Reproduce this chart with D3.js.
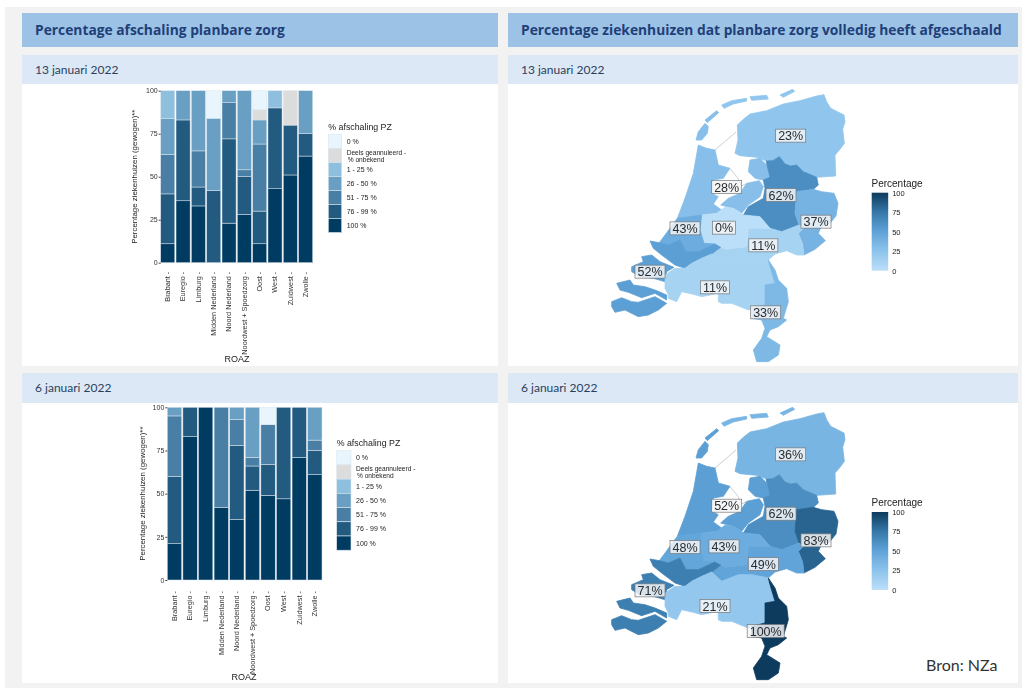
<!DOCTYPE html>
<html>
<head>
<meta charset="utf-8">
<script src="https://cdn.jsdelivr.net/npm/d3@7"></script>
<style>
  html, body { margin: 0; padding: 0; background: #fff; }
  svg { display: block; }
  .head { font-family: "Open Sans", sans-serif; font-weight: 700; font-size: 13.8px; fill: #1f3f78; }
  .sub { font-family: Lato, sans-serif; font-size: 12px; fill: #2b3f5c; }
  .plot { font-family: "Liberation Sans", Arial, sans-serif; filter: blur(0.45px); }
</style>
</head>
<body>
<div id="chart"></div>
<script>
// ROAZ regions, same order in both dates
const roaz = ['Brabant', 'Euregio', 'Limburg', 'Midden Nederland', 'Noord Nederland',
  'Noordwest + Spoedzorg', 'Oost', 'West', 'Zuidwest', 'Zwolle'];
const bands = ['100 %', '76 - 99 %', '51 - 75 %', '26 - 50 %', '1 - 25 %', 'Deels', '0 %'];
const bandColors = ['#003b61', '#235a80', '#4a7fa5', '#6a9fc4', '#8fbfdf', '#dcdcdc', '#e8f5fc'];
const yTicks = [0, 25, 50, 75, 100];

// 13 januari 2022, share per band (bottom to top of the stack)
const jan13_100 = [11, 36, 33, 0, 23, 28, 11, 43, 51, 62];
const jan13_76 = [29, 47, 11, 42, 49, 22, 19, 47, 29, 13];
const jan13_51 = [23, 0, 21, 0, 21, 4, 39, 0, 0, 0];
const jan13_26 = [21, 17, 35, 42, 7, 46, 14, 0, 0, 25];
const jan13_1 = [16, 0, 0, 0, 0, 0, 0, 10, 0, 0];
const jan13_deels = [0, 0, 0, 0, 0, 0, 6, 0, 20, 0];
const jan13_0 = [0, 0, 0, 16, 0, 0, 11, 0, 0, 0];

// 6 januari 2022
const jan6_100 = [21, 83, 100, 42, 35, 52, 49, 47, 71, 61];
const jan6_76 = [39, 17, 0, 0, 43, 14, 18, 53, 29, 14];
const jan6_51 = [35, 0, 0, 58, 15, 5, 23, 0, 0, 6];
const jan6_26 = [5, 0, 0, 0, 7, 29, 0, 0, 0, 19];
const jan6_1 = [0, 0, 0, 0, 0, 0, 0, 0, 0, 0];
const jan6_deels = [0, 0, 0, 0, 0, 0, 0, 0, 0, 0];
const jan6_0 = [0, 0, 0, 0, 0, 0, 10, 0, 0, 0];

// map regions, percentage hospitals fully scaled down
const mapRegions = ['noord', 'noordwest', 'zwolle', 'euregio', 'oost', 'midden', 'west', 'zuidwest', 'brabant', 'limburg'];
const mapJan13 = [23, 28, 62, 37, 11, 0, 43, 52, 11, 33];
const mapJan6 = [36, 52, 62, 83, 49, 43, 48, 71, 21, 100];

// outlines, traced in map units (1020 x 840)
const outlines = {
  noord: [[[412,105],[430,88],[450,72],[500,62],[550,42],[600,32],[650,18],[672,14],[680,35],[692,55],[732,75],[735,95],[728,118],[733,160],[720,178],[705,195],[707,258],[650,262],[610,245],[590,225],[572,228],[555,222],[538,200],[518,212],[498,212],[470,202],[420,197],[405,190],[414,150]],
    [[365,45],[395,32],[440,25],[440,33],[400,42],[372,55]],
    [[450,20],[500,16],[505,27],[455,31]],
    [[540,15],[578,-2],[584,4],[550,22]]],
  noordwest: [[[295,165],[320,175],[345,180],[355,225],[390,235],[370,265],[340,270],[335,310],[355,320],[340,342],[372,365],[350,370],[305,375],[232,385],[255,325],[280,250]],
    [[362,345],[385,325],[420,310],[440,280],[478,272],[490,290],[480,320],[445,345],[425,370],[400,355]],
    [[450,210],[480,205],[500,225],[510,262],[490,270],[465,265],[445,245]],
    [[288,150],[295,125],[315,100],[325,110],[322,130],[305,150]],
    [[315,90],[350,62],[356,68],[322,98]]],
  zwolle: [[[498,213],[518,212],[538,200],[555,222],[572,228],[590,225],[610,245],[650,262],[655,285],[640,298],[590,305],[585,370],[597,405],[545,425],[510,415],[480,380],[430,375],[445,350],[490,325],[495,295],[490,270],[510,262]]],
  euregio: [[[590,305],[640,298],[665,305],[702,310],[714,340],[708,378],[690,400],[665,408],[655,430],[676,452],[645,478],[612,495],[608,462],[595,430],[610,415],[597,405],[585,370]]],
  oost: [[[445,415],[510,415],[545,425],[597,405],[610,415],[595,430],[608,462],[612,495],[590,495],[560,482],[525,492],[505,510],[455,500],[415,500],[365,520],[335,492],[362,472],[378,478],[440,470]]],
  midden: [[[305,375],[350,370],[375,352],[400,355],[425,370],[430,375],[480,380],[510,415],[445,415],[440,470],[378,478],[362,472],[345,462],[312,460],[300,420]]],
  west: [[[232,385],[305,375],[300,420],[312,460],[345,462],[295,485],[258,485],[240,450],[205,465],[178,458]]],
  zuidwest: [[[150,453],[178,458],[205,465],[240,450],[258,485],[295,485],[345,462],[362,472],[335,492],[305,505],[275,520],[255,535],[225,525],[185,495],[160,475]],
    [[95,530],[130,515],[125,500],[155,495],[180,515],[222,532],[200,545],[195,575],[160,565],[120,560],[95,545]],
    [[50,580],[90,570],[100,585],[135,590],[165,600],[200,615],[200,630],[165,610],[125,623],[85,607],[60,600]],
    [[35,635],[65,623],[95,635],[115,637],[165,620],[200,640],[175,660],[145,675],[115,680],[75,660],[45,667],[35,650]]],
  brabant: [[[195,555],[225,535],[255,535],[275,520],[305,505],[335,492],[365,520],[415,500],[455,500],[505,510],[510,530],[525,580],[495,585],[495,645],[455,655],[445,660],[395,640],[365,640],[355,635],[355,610],[305,620],[280,613],[245,605],[230,635],[205,625],[205,615],[195,595]]],
  limburg: [[[505,510],[525,540],[535,570],[560,595],[565,635],[550,685],[560,690],[535,710],[510,720],[500,740],[540,765],[535,795],[505,815],[470,815],[460,780],[485,745],[495,715],[485,690],[455,685],[455,655],[495,645],[495,585],[525,580],[510,530]]]
};
const dikes = [[[345,180],[408,126]], [[390,236],[412,262],[425,288],[440,280]]];
const labelPoints = {
  noord: [572, 137], noordwest: [380, 291], zwolle: [543, 315], euregio: [648, 395], oost: [490, 466],
  midden: [372, 413], west: [255, 415], zuidwest: [150, 545], brabant: [345, 592], limburg: [497, 667]
};

const svg = d3.select('#chart').append('svg').attr('width', 1022).attr('height', 688);

// page background and panels
svg.append('rect').attr('x', 5).attr('y', 7).attr('width', 1017).attr('height', 681).attr('fill', '#f2f2f2');

function panel(x, w, title, date1, date2) {
  svg.append('rect').attr('x', x).attr('y', 13).attr('width', w).attr('height', 34).attr('fill', '#9cc2e6');
  svg.append('text').attr('class', 'head').attr('x', x + 13).attr('y', 35).text(title);
  [[55, 29, 84, 282, date1, 74], [373, 30, 403, 280, date2, 392]].forEach(r => {
    svg.append('rect').attr('x', x).attr('y', r[0]).attr('width', w).attr('height', r[1]).attr('fill', '#dce8f6');
    svg.append('rect').attr('x', x).attr('y', r[2]).attr('width', w).attr('height', r[3]).attr('fill', '#fff');
    svg.append('text').attr('class', 'sub').attr('x', x + 13).attr('y', r[5]).text(r[4]);
  });
}
panel(22, 476, 'Percentage afschaling planbare zorg', '13 januari 2022', '6 januari 2022');
panel(508, 510, 'Percentage ziekenhuizen dat planbare zorg volledig heeft afgeschaald', '13 januari 2022', '6 januari 2022');

function drawBars(cfg) {
  const g = svg.append('g').attr('class', 'plot');
  const x = d3.scaleBand().domain(roaz).range([cfg.left, cfg.right]).paddingInner(0.08);
  const y = d3.scaleLinear().domain([0, 100]).range([cfg.bottom, cfg.top]);

  const rows = roaz.map((r, i) => {
    const row = { roaz: r };
    bands.forEach((b, j) => { row[b] = cfg.series[j][i]; });
    return row;
  });
  const stacked = d3.stack().keys(bands)(rows);

  g.selectAll('g.band').data(stacked).join('g').attr('class', 'band')
    .attr('fill', (d, i) => bandColors[i])
    .selectAll('rect').data(d => d.filter(s => s[1] > s[0])).join('rect')
    .attr('x', d => x(d.data.roaz))
    .attr('width', x.bandwidth())
    .attr('y', d => y(d[1]))
    .attr('height', d => y(d[0]) - y(d[1]))
    .attr('stroke', '#dbe6ee').attr('stroke-width', 0.5);

  g.append('g').attr('transform', `translate(${cfg.left},0)`)
    .call(d3.axisLeft(y).tickValues(yTicks).tickSize(2).tickPadding(1))
    .call(a => a.select('.domain').remove())
    .call(a => a.selectAll('line').attr('stroke', '#444'))
    .call(a => a.selectAll('text').attr('font-size', 7).attr('font-family', 'inherit').attr('fill', '#333'));

  g.append('g').attr('transform', `translate(0,${cfg.bottom})`)
    .call(d3.axisBottom(x).tickSize(0))
    .call(a => a.select('.domain').remove())
    .call(a => a.selectAll('text')
      .attr('transform', 'rotate(-90)')
      .attr('x', -cfg.tickGap).attr('y', 0).attr('dy', '0.32em')
      .attr('text-anchor', 'end')
      .attr('font-size', 7.3).attr('font-family', 'inherit').attr('fill', '#333')
      .text(d => d + ' -'));

  g.append('text')
    .attr('transform', `translate(${cfg.yTitleX},${(cfg.top + cfg.bottom) / 2}) rotate(-90)`)
    .attr('text-anchor', 'middle').attr('font-size', 7.9).attr('fill', '#222')
    .text('Percentage ziekenhuizen (gewogen)**');
  g.append('text').attr('x', cfg.roazX).attr('y', cfg.roazY)
    .attr('text-anchor', 'middle').attr('font-size', 9).attr('fill', '#222').text('ROAZ');

  // legend, top entry first
  const lg = g.append('g').attr('transform', `translate(${cfg.legX},${cfg.legY})`);
  lg.append('text').attr('x', 0).attr('y', -5).attr('font-size', 8.8).attr('fill', '#222').text('% afschaling PZ');
  const order = bands.slice().reverse();
  const colors = bandColors.slice().reverse();
  const rowY = d3.scaleBand().domain(order).range([0, cfg.legH]);
  order.forEach((b, i) => {
    lg.append('rect').attr('x', 0).attr('y', rowY(b)).attr('width', cfg.legW).attr('height', rowY.bandwidth())
      .attr('fill', colors[i]).attr('stroke', '#dbe6ee').attr('stroke-width', 0.6);
    const mid = rowY(b) + rowY.bandwidth() / 2;
    if (b === 'Deels') {
      lg.append('text').attr('x', cfg.legW + 5).attr('y', mid - 1).attr('font-size', 6.6).attr('fill', '#222').text('Deels geannuleerd -');
      lg.append('text').attr('x', cfg.legW + 6).attr('y', mid + 6).attr('font-size', 6.6).attr('fill', '#222').text('% onbekend');
    } else {
      lg.append('text').attr('x', cfg.legW + 5).attr('y', mid).attr('dy', '0.35em').attr('font-size', 7).attr('fill', '#222').text(b);
    }
  });
}

drawBars({
  series: [jan13_100, jan13_76, jan13_51, jan13_26, jan13_1, jan13_deels, jan13_0],
  left: 160.7, right: 312.7, top: 90.7, bottom: 262.7, tickGap: 9,
  yTitleX: 137, roazX: 237, roazY: 362,
  legX: 328.3, legY: 134.5, legW: 13.4, legH: 98
});
drawBars({
  series: [jan6_100, jan6_76, jan6_51, jan6_26, jan6_1, jan6_deels, jan6_0],
  left: 167.3, right: 322, top: 407.3, bottom: 580, tickGap: 11,
  yTitleX: 145, roazX: 244, roazY: 680,
  legX: 336.7, legY: 450.7, legW: 14.3, legH: 99.5
});

// map colour ramp: light to dark as percentage rises
const mapColor = d3.scaleLinear()
  .domain([0, 25, 50, 75, 100])
  .range(['#bbdff8', '#8cc3ec', '#5fa3d8', '#3678a8', '#0c3b5e'])
  .interpolate(d3.interpolateLab);

let gradCount = 0;
function drawMap(cfg) {
  const g = svg.append('g').attr('class', 'plot');
  const x = d3.scaleLinear().domain([0, 1020]).range([600, 940]);
  const y = d3.scaleLinear().domain([0, 840]).range([cfg.top, cfg.top + 280]);
  const ring = d3.line().x(d => x(d[0])).y(d => y(d[1])).curve(d3.curveLinearClosed);
  const open = d3.line().x(d => x(d[0])).y(d => y(d[1]));

  mapRegions.forEach((name, i) => {
    g.append('path')
      .attr('d', outlines[name].map(r => ring(r)).join(''))
      .attr('fill', mapColor(cfg.values[i]))
      .attr('stroke', mapColor(cfg.values[i])).attr('stroke-width', 0.8);
  });
  dikes.forEach(d => {
    g.append('path').attr('d', open(d)).attr('fill', 'none').attr('stroke', '#c4c8cc').attr('stroke-width', 0.9);
  });

  mapRegions.forEach((name, i) => {
    const p = labelPoints[name];
    const lab = g.append('g').attr('transform', `translate(${x(p[0])},${y(p[1]) + cfg.labelShift})`);
    const box = lab.append('rect').attr('fill', '#f2f5f7').attr('fill-opacity', 0.85).attr('stroke', '#777').attr('stroke-width', 0.7);
    const t = lab.append('text').attr('text-anchor', 'middle').attr('dy', '0.36em')
      .attr('font-size', 12.5).attr('fill', '#2b2b2b').text(cfg.values[i] + '%');
    const w = t.node().getComputedTextLength() + 5;
    box.attr('x', -w / 2).attr('y', -6.5).attr('width', w).attr('height', 13);
  });

  // colour bar
  const id = 'ramp' + (gradCount++);
  const grad = svg.append('defs').append('linearGradient').attr('id', id)
    .attr('x1', 0).attr('y1', 1).attr('x2', 0).attr('y2', 0);
  d3.range(0, 101, 5).forEach(v => {
    grad.append('stop').attr('offset', v + '%').attr('stop-color', mapColor(v));
  });
  const ly = d3.scaleLinear().domain([0, 100]).range([cfg.legBottom, cfg.legBottom - 78]);
  g.append('rect').attr('x', 871.7).attr('y', ly(100)).attr('width', 16.5).attr('height', 78).attr('fill', `url(#${id})`);
  g.append('g').attr('transform', 'translate(888.2,0)')
    .call(d3.axisRight(ly).tickValues(yTicks).tickSize(0).tickPadding(4))
    .call(a => a.select('.domain').remove())
    .call(a => a.selectAll('text').attr('font-size', 7.5).attr('font-family', 'inherit').attr('fill', '#222'));
  g.append('text').attr('x', 871.5).attr('y', ly(100) - 6).attr('font-size', 10).attr('fill', '#222').text('Percentage');
}

drawMap({ values: mapJan13, top: 90, labelShift: 0, legBottom: 270.7 });
drawMap({ values: mapJan6, top: 408, labelShift: 0.7, legBottom: 590 });

svg.append('text').attr('x', 926).attr('y', 671)
  .attr('font-family', 'Lato, sans-serif').attr('font-size', 16).attr('fill', '#333')
  .text('Bron: NZa');
</script>
</body>
</html>
